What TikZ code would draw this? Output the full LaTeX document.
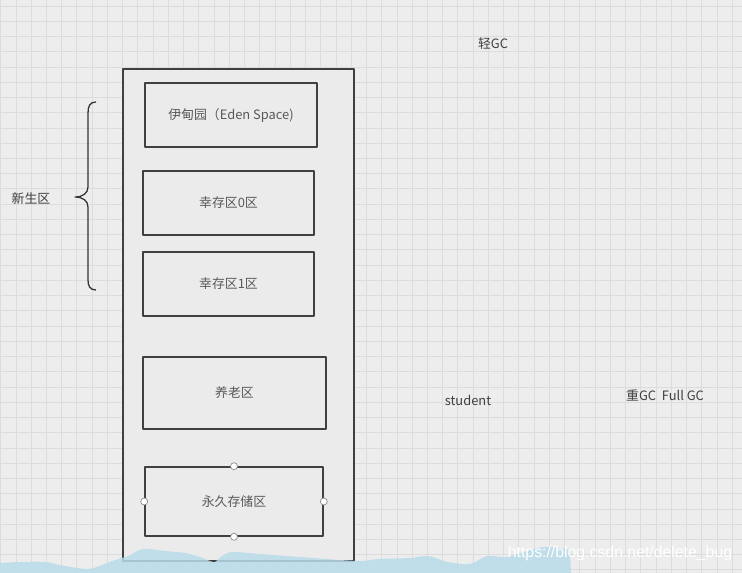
\documentclass[tikz,border=0pt]{standalone}
\usetikzlibrary{positioning}
\usepackage{xcolor}
\usepackage{fontspec}
\setmainfont{Noto Sans CJK SC}
\newfontfamily\markfont{Liberation Sans}
\def\px{0.03cm}
\definecolor{paper}{HTML}{EDEDED}
\definecolor{gridgray}{HTML}{DCDCDC}
\definecolor{boxgray}{HTML}{EBEBEB}
\definecolor{wave}{HTML}{B9DCE9}

\begin{document}
\begin{tikzpicture}[x=\px, y=-\px, line join=round]
    \tikzstyle{gridline}=[draw=gridgray, line width=0.7pt]
    \tikzstyle{area}=[rectangle, draw=black!75, line width=1.4pt, fill=boxgray, text=black!65, font=\fontsize{11}{13}\selectfont, inner sep=0pt]
    \tikzstyle{outer text}=[text=black!75, font=\fontsize{11}{13}\selectfont, inner sep=0pt]
    \tikzstyle{handle}=[circle, draw=black!45, fill=white, line width=0.6pt, minimum size=7*\px, inner sep=0pt]

    % paper and grid
    \useasboundingbox (0,0) rectangle (742,573);
    \fill[paper] (0,0) rectangle (742,573);
    \foreach \i in {0,...,48}
        \draw[gridline] (0.7+\i*15.24,0) -- (0.7+\i*15.24,573);
    \foreach \j in {0,...,37}
        \draw[gridline] (0,6+\j*15.24) -- (742,6+\j*15.24);

    % the heap and its areas
    \node[area, line width=1.6pt, minimum width=231*\px, minimum height=492*\px] (heap) at (238.5,315) {};
    \node[area, minimum width=172*\px, minimum height=64*\px] (eden) at (231,115) {伊甸园（Eden Space)};
    \node[area, minimum width=171*\px, minimum height=64*\px] (s0) at (228.5,203) {幸存区0区};
    \node[area, minimum width=171*\px, minimum height=64*\px] (s1) at (228.5,284) {幸存区1区};
    \node[area, minimum width=183*\px, minimum height=72*\px] (old) at (234.5,393) {养老区};
    \node[area, minimum width=178*\px, minimum height=69*\px] (perm) at (234,501.5) {永久存储区};

    % selection handles
    \foreach \side in {north,south,east,west}
        \node[handle] (perm-\side) at (perm.\side) {};

    % brace for the young generation
    \coordinate (ytop) at (96,102);
    \coordinate (ytip) at (75,197);
    \coordinate (ybot) at (96,290);
    \draw[black!80, line width=1.1pt] (ytop) .. controls (90,102) and (88,106) .. (88,113) -- (88,187)
        .. controls (88,193) and (83,197) .. (ytip) .. controls (83,197) and (88,201) .. (88,207)
        -- (88,280) .. controls (88,286) and (90,290) .. (ybot);

    \node[outer text] (young) at (31,199) {新生区};
    \node[outer text] (minor) at (493,44) {轻GC};
    \node[outer text] (student) at (468,400) {student};
    \node[outer text] (major) at (665,395) {重GC\ \ Full GC};

    % watermark
    \fill[wave, opacity=0.85] (0,573) -- plot[smooth] coordinates {(0,563) (20,562) (45,562) (65,566) (88,569) (102,565) (112,561) (128,556) (143,549) (165,551) (185,553) (200,557) (210,561) (215,562) (222,556) (232,552) (260,554) (300,557) (340,560) (362,561) (378,559) (410,558) (428,556) (448,562) (470,564) (487,556) (507,557) (530,550) (545,547) (560,548) (570,550)} -- (571,573) -- cycle;
    \node[text=white, font=\markfont\fontsize{13.5}{16}\selectfont, inner sep=0pt] (mark) at (620,553) {https://blog.csdn.net/delete\_bug};
\end{tikzpicture}
\end{document}
